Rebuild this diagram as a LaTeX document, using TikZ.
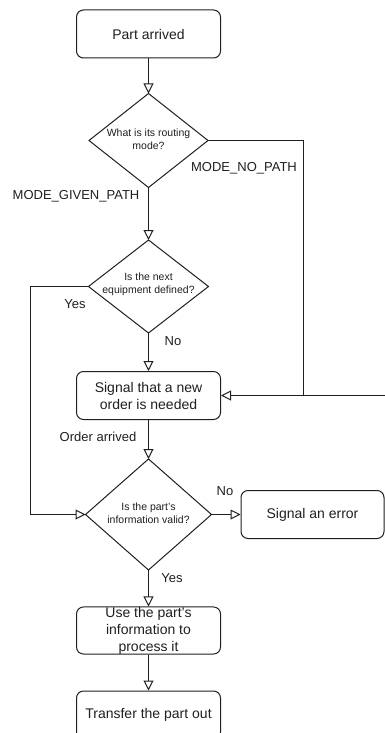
\documentclass[tikz,border=0pt]{standalone}
\usepackage{fontspec}
\setmainfont{Liberation Sans}
\usetikzlibrary{shapes.geometric,arrows.meta}
\definecolor{ink}{rgb}{0.12,0.12,0.12}
\begin{document}
\begin{tikzpicture}[x=1pt,y=-1pt,
  every node/.style={inner sep=0pt, text=ink},
  proc/.style={draw=ink, rounded corners=7pt, minimum width=144pt, minimum height=48pt, align=center, font=\fontsize{14}{17}\selectfont, line width=1pt},
  dec/.style={draw=ink, diamond, line width=1pt, outer sep=0pt},
  dectext/.style={align=center, font=\fontsize{10.5}{13}\selectfont},
  lbl/.style={font=\fontsize{13}{15}\selectfont},
  flow/.style={draw=ink, line width=1pt, -{Triangle[open, length=10pt, width=10pt]}},
  plain/.style={draw=ink, line width=1pt}
]
\useasboundingbox (0,0) rectangle (385,733);
% nodes
\node[proc] (p1) at (148.5,34) {Part arrived};
\node[dec, minimum width=119pt, minimum height=94pt] (d1) at (148.5,140.5) {};
\node[dectext] (t1) at (148.5,139.5) {What is its routing\\mode?};
\node[dec, minimum width=120pt, minimum height=93pt] (d2) at (148.5,286.5) {};
\node[dectext] (t2) at (148.5,284) {Is the next\\equipment defined?};
\node[proc] (p2) at (148.5,395.5) {Signal that a new\\order is needed};
\node[dec, minimum width=126pt, minimum height=111pt] (d3) at (148.5,514.5) {};
\node[dectext] (t3) at (148.5,513) {Is the part's\\information valid?};
\node[proc, minimum width=143pt] (p3) at (312.5,514.5) {Signal an error};
\node[proc, minimum height=47pt] (p4) at (148.5,630.5) {Use the part's\\information to\\process it};
\node[proc] (p5) at (148.5,715) {Transfer the part out};
% coordinates
\coordinate (j1) at (303.5,395.5);
\coordinate (cR) at (390,395.5);
\coordinate (cY) at (30.5,286.5);
% connectors
\draw[flow] (p1) -- (d1);
\draw[flow] (d1.east) -| (j1) -- (p2.east);
\draw[plain] (cR) -- (j1);
\draw[flow] (d1.south) -- (d2.north);
\draw[flow] (d2.west) -- (cY) |- (d3.west);
\draw[flow] (d2.south) -- (p2.north);
\draw[flow] (p2.south) -- (d3.north);
\draw[flow] (d3.east) -- (p3.west);
\draw[flow] (d3.south) -- (p4.north);
\draw[flow] (p4.south) -- (p5.north);
% labels
\node[lbl] (l1) at (244,168) {MODE\_NO\_PATH};
\node[lbl] (l2) at (76,196) {MODE\_GIVEN\_PATH};
\node[lbl] (l3) at (75,304) {Yes};
\node[lbl] (l4) at (173,341) {No};
\node[lbl] (l5) at (98,437) {Order arrived};
\node[lbl] (l6) at (225,491) {No};
\node[lbl] (l7) at (172,578) {Yes};
\end{tikzpicture}
\end{document}
